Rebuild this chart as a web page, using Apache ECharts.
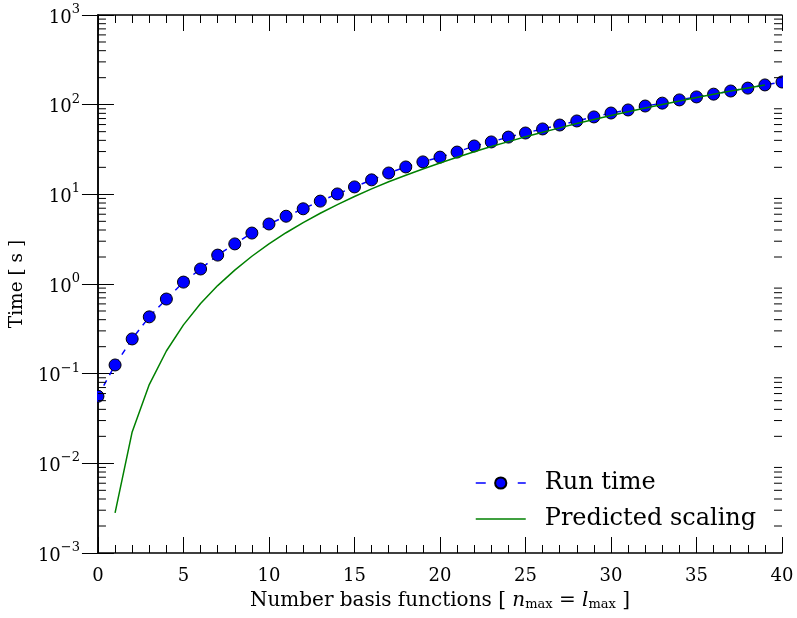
<!DOCTYPE html>
<html>
<head>
<meta charset="utf-8">
<script src="https://cdn.jsdelivr.net/npm/echarts@6/dist/echarts.min.js"></script>
<style>html,body{margin:0;padding:0;background:#fff}#c{width:797px;height:618px}</style>
</head>
<body>
<div id="c"></div>
<script>
var nValues = [0,1,2,3,4,5,6,7,8,9,10,11,12,13,14,15,16,17,18,19,20,21,22,23,24,25,26,27,28,29,30,31,32,33,34,35,36,37,38,39,40];
var runTime = [0.056,0.125,0.244,0.43,0.68,1.05,1.47,2.1,2.8,3.7,4.67,5.7,6.9,8.4,10.1,12.1,14.5,17.3,20.2,23,26,29.6,34.6,38.4,43.5,48.3,53.6,59.3,65.8,73,80.7,87.3,96.6,104,113,122,131,142,153,166,179];
var predN = [1,2,3,4,5,6,7,8,9,10,11,12,13,14,15,16,17,18,19,20,21,22,23,24,25,26,27,28,29,30,31,32,33,34,35,36,37,38,39];
var predicted = [0.0028,0.0224,0.0756,0.179,0.35,0.605,0.96,1.43,2.04,2.8,3.73,4.84,6.15,7.68,9.45,11.5,13.8,16.3,19.2,22.4,25.9,29.8,34.1,38.7,43.8,49.2,55.1,61.5,68.3,75.6,83.4,91.8,100.6,110,120,130.6,141.8,153.6,166.1];
var xTicks = [0,5,10,15,20,25,30,35,40];
var yMinorTicks = [];
[0.001,0.01,0.1,1,10,100].forEach(function(d){ for (var k=2;k<=9;k++) yMinorTicks.push(+(k*d).toPrecision(3)); });
var xName = 'Number basis functions [ ';
var yName = 'Time [ s ]';
var legendNames = ['Run time','Predicted scaling'];

var F = 'DejaVu Serif';
var chart = echarts.init(document.getElementById('c'), null, {renderer:'canvas'});

function pair(xs, ys){ return xs.map(function(x,i){ return [x, ys[i]]; }); }

var axisLine = {show:true, lineStyle:{color:'#000', width:1.5}};
var xCommon = {
  type:'value', min:0, max:40, interval:5,
  axisLine: axisLine,
  axisTick:{show:true, inside:true, length:16, lineStyle:{color:'#000', width:1}},
  minorTick:{show:true, splitNumber:5, length:8, lineStyle:{color:'#000', width:1}},
  splitLine:{show:false}, minorSplitLine:{show:false}
};
var yCommon = {
  type:'log', logBase:10, min:0.001, max:1000,
  axisLine: axisLine,
  axisTick:{show:true, inside:true, length:16, lineStyle:{color:'#000', width:1}},
  splitLine:{show:false}
};

var supRich = {
  b:{fontFamily:F, fontSize:18, color:'#000', verticalAlign:'bottom', lineHeight:24},
  s:{fontFamily:F, fontSize:13, color:'#000', verticalAlign:'top', lineHeight:24, padding:[0,0,8,0]}
};

function minorTickRender(params, api){
  var v = api.value(1);
  var pl = api.coord([0, v]);
  var pr = api.coord([40, v]);
  var st = {stroke:'#000', lineWidth:1};
  return {type:'group', children:[
    {type:'line', shape:{x1:pl[0], y1:pl[1], x2:pl[0]+8, y2:pl[1]}, style:st},
    {type:'line', shape:{x1:pr[0], y1:pr[1], x2:pr[0]-8, y2:pr[1]}, style:st}
  ]};
}

function markerRender(params, api){
  var p = api.coord([api.value(0), api.value(1)]);
  return {type:'circle', shape:{cx:p[0], cy:p[1], r:6}, style:{fill:'#0000ff', stroke:'#000', lineWidth:1}};
}

chart.setOption({
  animation:false,
  backgroundColor:'#fff',
  grid:{left:96, right:15, top:15, bottom:65, containLabel:false},
  legend:{
    orient:'vertical', left:470, top:466, itemWidth:50, itemHeight:14, itemGap:12,
    data:[
      {name:legendNames[0], lineStyle:{type:[10,32], width:1.5, color:'#0000ff'}},
      {name:legendNames[1], itemStyle:{opacity:0}, lineStyle:{width:1.5, color:'#008000', opacity:1}}
    ],
    textStyle:{fontFamily:F, fontSize:24, color:'#000', lineHeight:24, padding:[0,0,0,14]}
  },
  xAxis:[
    Object.assign({}, xCommon, {
      position:'bottom',
      axisLabel:{show:true, margin:14, fontFamily:F, fontSize:18, color:'#000'},
      name:'x', nameLocation:'middle', nameGap:37,
      nameTextStyle:{
        rich:{
          t:{fontFamily:F, fontSize:20, color:'#000'},
          i:{fontFamily:F, fontSize:20, fontStyle:'italic', color:'#000'},
          sub:{fontFamily:F, fontSize:13, color:'#000', padding:[8,0,0,0]}
        }
      }
    }),
    Object.assign({}, xCommon, {position:'top', axisLabel:{show:false}})
  ],
  yAxis:[
    Object.assign({}, yCommon, {
      position:'left',
      axisLabel:{show:true, margin:18, formatter:function(v){
        var e = Math.round(Math.log10(v));
        return '{b|10}{s|' + (e<0 ? '\u2212'+(-e) : e) + '}';
      }, rich:supRich},
      name:yName, nameLocation:'middle', nameGap:70, nameRotate:90,
      nameTextStyle:{fontFamily:F, fontSize:18.5, color:'#000'}
    }),
    Object.assign({}, yCommon, {position:'right', axisLabel:{show:false}})
  ],
  series:[
    {
      name:legendNames[0], type:'line', data:pair(nValues, runTime),
      xAxisIndex:0, yAxisIndex:0,
      symbol:'circle', symbolSize:11, showSymbol:false,
      itemStyle:{color:'#0000ff', borderColor:'#000', borderWidth:0.8},
      lineStyle:{color:'#0000ff', width:1.5, type:[6,6]},
      z:2
    },
    {
      type:'custom', xAxisIndex:0, yAxisIndex:0, silent:true, clip:true,
      data:pair(nValues, runTime),
      renderItem:markerRender, z:3
    },
    {
      name:legendNames[1], type:'line', data:pair(predN, predicted),
      xAxisIndex:0, yAxisIndex:0,
      symbol:'none', showSymbol:false,
      itemStyle:{color:'#008000'},
      lineStyle:{color:'#008000', width:1.5},
      z:4
    },
    {
      type:'custom', xAxisIndex:0, yAxisIndex:0, silent:true, clip:false,
      data:yMinorTicks.map(function(v){ return [0, v]; }),
      renderItem:minorTickRender, z:10
    }
  ]
});
chart.setOption({xAxis:[{name:'{t|'+xName+'}{i|n}{sub|max}{t| = }{i|l}{sub|max}{t| ]}'}]});
</script>
</body>
</html>
